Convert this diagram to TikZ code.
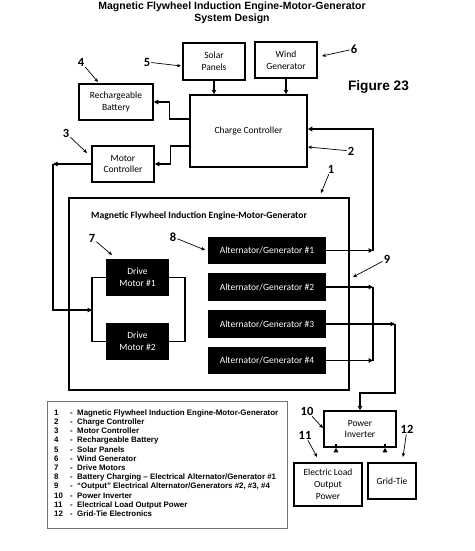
\documentclass[tikz,border=0pt]{standalone}
\usepackage{fontspec}
\setmainfont{Liberation Sans}
\newfontfamily\calfont{Carlito}
\usetikzlibrary{arrows.meta,calc}
\tikzset{
  box/.style={draw, line width=1.5pt, fill=white, align=center, inner sep=1pt,
    font=\calfont\fontsize{9.5}{11.8}\selectfont},
  blk/.style={fill=black, text=white, align=center, inner sep=1pt,
    font=\calfont\fontsize{9.5}{11.8}\selectfont},
  conn/.style={line width=1.5pt, -{Triangle[length=4.5pt,width=4.5pt]}},
  wire/.style={line width=1.5pt},
  lbl/.style={inner sep=1pt, font=\calfont\bfseries\fontsize{12.5}{13}\selectfont},
  ptr/.style={line width=0.7pt, -{Stealth[length=4pt,width=3.5pt]}},
}
\begin{document}
\begin{tikzpicture}[x=1pt,y=-1pt]
\useasboundingbox (0,0) rectangle (474,551);
% title
\node[font=\bfseries\fontsize{10.5}{12.5}\selectfont, align=center] (title) at (232,13) {Magnetic Flywheel Induction Engine-Motor-Generator\\System Design};
\node[font=\bfseries\fontsize{13.7}{15}\selectfont] (fig) at (378.5,87) {Figure 23};
% top boxes
\node[box, minimum width=62pt, minimum height=37pt] (solar) at (214,61.5) {Solar\\Panels};
\node[box, minimum width=62pt, minimum height=36pt] (wind) at (286,60) {Wind\\Generator};
\node[box, minimum width=74pt, minimum height=36pt] (batt) at (116,102) {Rechargeable\\Battery};
\node[box, minimum width=117pt, minimum height=72pt] (cc) at (248.5,131) {Charge Controller};
\node[box, minimum width=62pt, minimum height=36pt] (mc) at (123,164) {Motor\\Controller};
% main frame
\node[draw, line width=2.2pt, minimum width=280pt, minimum height=192pt, inner sep=0pt] (frame) at (209,294) {};
\node[anchor=west, inner sep=0pt, font=\calfont\bfseries\fontsize{9.6}{11}\selectfont] (ftitle) at (91,216) {Magnetic Flywheel Induction Engine-Motor-Generator};
\node[blk, minimum width=63pt, minimum height=37pt] (dm1) at (137.5,277.5) {Drive\\Motor \#1};
\node[blk, minimum width=63pt, minimum height=37pt] (dm2) at (137.5,341.5) {Drive\\Motor \#2};
\node[blk, minimum width=118pt, minimum height=27pt] (alt1) at (267,250.5) {Alternator/Generator \#1};
\node[blk, minimum width=118pt, minimum height=28pt] (alt2) at (267,287) {Alternator/Generator \#2};
\node[blk, minimum width=118pt, minimum height=28pt] (alt3) at (267,324) {Alternator/Generator \#3};
\node[blk, minimum width=118pt, minimum height=27pt] (alt4) at (267,360.5) {Alternator/Generator \#4};
% bottom boxes
\node[box, minimum width=72pt, minimum height=36pt] (pi) at (360,429) {Power\\Inverter};
\node[box, minimum width=68pt, minimum height=43pt] (elop) at (328,484.5) {Electric Load\\Output\\Power};
\node[box, minimum width=48pt, minimum height=36pt] (gt) at (392,481) {Grid-Tie};
% legend
\node[draw=black!55, line width=0.8pt, minimum width=240pt, minimum height=127pt, inner sep=0pt] (leg) at (167,464.5) {};
\node[anchor=north west, inner sep=0pt, align=left, font=\bfseries\fontsize{7.9}{9.18}\selectfont] (legtext) at (54,409.5) {%
\makebox[16pt][l]{1}\makebox[7pt][l]{-}Magnetic Flywheel Induction Engine-Motor-Generator\\
\makebox[16pt][l]{2}\makebox[7pt][l]{-}Charge Controller\\
\makebox[16pt][l]{3}\makebox[7pt][l]{-}Motor Controller\\
\makebox[16pt][l]{4}\makebox[7pt][l]{-}Rechargeable Battery\\
\makebox[16pt][l]{5}\makebox[7pt][l]{-}Solar Panels\\
\makebox[16pt][l]{6}\makebox[7pt][l]{-}Wind Generator\\
\makebox[16pt][l]{7}\makebox[7pt][l]{-}Drive Motors\\
\makebox[16pt][l]{8}\makebox[7pt][l]{-}Battery Charging – Electrical Alternator/Generator \#1\\
\makebox[16pt][l]{9}\makebox[7pt][l]{-}“Output” Electrical Alternator/Generators \#2, \#3, \#4\\
\makebox[16pt][l]{10}\makebox[7pt][l]{-}Power Inverter\\
\makebox[16pt][l]{11}\makebox[7pt][l]{-}Electrical Load Output Power\\
\makebox[16pt][l]{12}\makebox[7pt][l]{-}Grid-Tie Electronics};
% connectors
\draw[conn] (solar.south) -- (solar.south |- cc.north);
\draw[conn] (wind.south) -- (wind.south |- cc.north);
\draw[conn] ($(cc.west)+(0,-12)$) -- ++(-20,0) |- (batt.east);
\draw[conn] ($(cc.west)+(0,15)$) -- ++(-19,0) |- (mc.east);
\coordinate (c1) at (53,164);
\coordinate (c2) at (92,310);
\draw[conn] (mc.west) -- (c1);
\draw[conn] (c1) |- (c2);
\draw[wire] (dm1.west) -- ++(-14,0) |- (dm2.west);
\draw[wire] (dm1.east) -- ++(16,0) |- (dm2.east);
\coordinate (j1) at (373,250.5);
\coordinate (j2) at (373,287);
\coordinate (j4) at (373,360.5);
\coordinate (j3) at (395,324);
\coordinate (j5) at (395,393);
\draw[conn] (alt1.east) -- (j1);
\draw[conn] (j1) |- ($(cc.east)+(0,-2)$);
\draw[conn] (alt2.east) -- (j2);
\draw[conn] (alt4.east) -- (j4);
\draw[wire] (j2) -- (j4);
\draw[conn] (alt3.east) -- (j3);
\draw[conn] (j3) -- (j5) -| (pi.north);
\draw[conn] ($(pi.south)+(-24,0)$) -- ($(pi.south)+(-24,0)$ |- elop.north);
\draw[conn] ($(pi.south)+(25,0)$) -- ($(pi.south)+(25,0)$ |- gt.north);
% labels and pointers
\node[lbl] (l1) at (331,169) {1};
\node[lbl] (l2) at (351,151) {2};
\node[lbl] (l3) at (66,133) {3};
\node[lbl] (l4) at (81,62) {4};
\node[lbl] (l5) at (147,62) {5};
\node[lbl] (l6) at (354,49) {6};
\node[lbl] (l7) at (92,238) {7};
\node[lbl] (l8) at (173,237) {8};
\node[lbl] (l9) at (387,259) {9};
\node[lbl] (l10) at (307,411) {10};
\node[lbl] (l11) at (305,435) {11};
\node[lbl] (l12) at (407,429) {12};
\coordinate (p1) at (321,193);
\coordinate (p2) at (308,147);
\coordinate (p3) at (87,153);
\coordinate (p4) at (98,82);
\coordinate (p5) at (181,66);
\coordinate (p6) at (322,56);
\coordinate (p7) at (112,255);
\coordinate (p8) at (205,250);
\coordinate (p9) at (353,277);
\coordinate (p10) at (323,428);
\coordinate (p11) at (317,457);
\coordinate (p12) at (403,457);
\foreach \i in {1,...,12} { \draw[ptr] (l\i) -- (p\i); }
\end{tikzpicture}
\end{document}
